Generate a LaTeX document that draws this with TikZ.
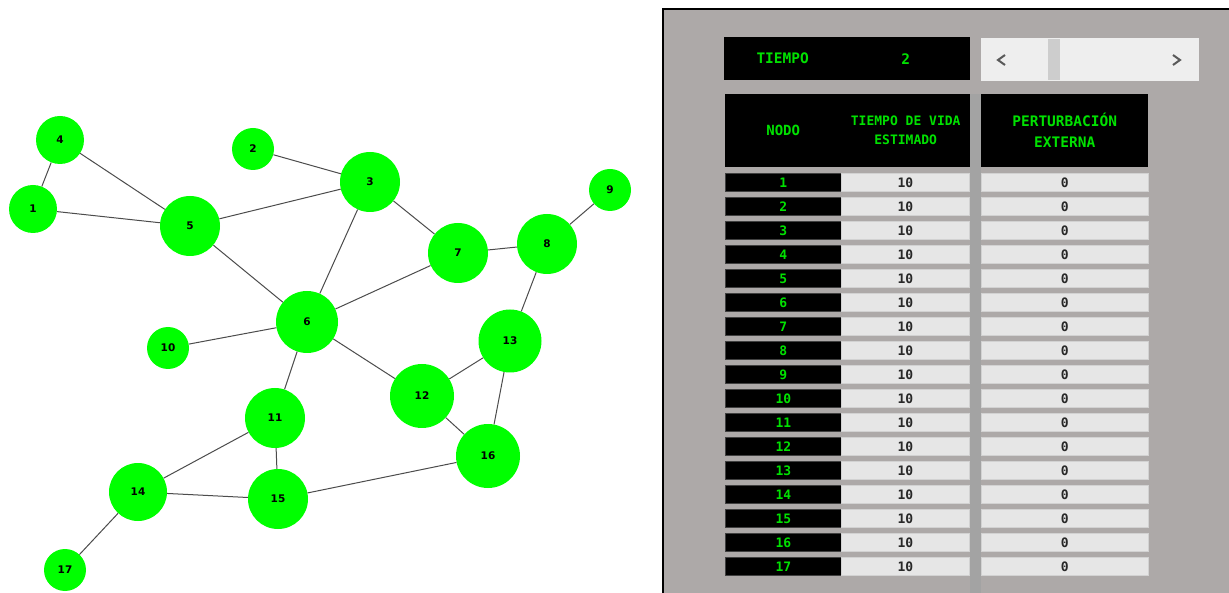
\documentclass[tikz,border=0pt]{standalone}
\usepackage{fontspec}
\newfontfamily\grafofont{DejaVu Sans}
\newfontfamily\tablafont{DejaVu Sans Mono}
\definecolor{lima}{RGB}{0,255,0}
\definecolor{verdetxt}{RGB}{0,225,0}
\definecolor{panelgris}{RGB}{173,169,168}
\definecolor{franja}{RGB}{163,163,163}
\definecolor{celda}{RGB}{230,230,230}
\definecolor{bordecelda}{RGB}{210,210,210}
\definecolor{textocelda}{RGB}{40,40,40}
\definecolor{barra}{RGB}{238,238,238}
\definecolor{pulgar}{RGB}{205,205,205}

\begin{document}
\begin{tikzpicture}[x=1pt,y=-1pt,
  vert/.style={circle,fill=lima,inner sep=0pt,font=\grafofont\bfseries\fontsize{10.5}{12}\selectfont},
  arista/.style={draw=black!70,line width=1pt},
  cabeza/.style={anchor=north west,fill=black,inner sep=0pt,text=verdetxt,align=center},
  negra/.style={anchor=north west,fill=black,draw=black!75,line width=0.8pt,inner sep=0pt,minimum width=116,minimum height=18,text=verdetxt,font=\tablafont\bfseries\fontsize{13}{14}\selectfont},
  vida/.style={anchor=north west,fill=celda,draw=bordecelda,line width=0.8pt,inner sep=0pt,minimum width=128,minimum height=18,text=textocelda,font=\tablafont\bfseries\fontsize{13}{14}\selectfont},
  pert/.style={anchor=north west,fill=celda,draw=bordecelda,line width=0.8pt,inner sep=0pt,minimum width=167,minimum height=18,text=textocelda,font=\tablafont\bfseries\fontsize{13}{14}\selectfont}]
\useasboundingbox (0,0) rectangle (1229,593);
\fill[white] (0,0) rectangle (1229,593);
% graph
\node[vert,minimum size=48] (n1) at (33,209) {1};
\node[vert,minimum size=42] (n2) at (253,149) {2};
\node[vert,minimum size=60] (n3) at (370,182) {3};
\node[vert,minimum size=48] (n4) at (60,140) {4};
\node[vert,minimum size=60] (n5) at (190,226) {5};
\node[vert,minimum size=62] (n6) at (307,322) {6};
\node[vert,minimum size=60] (n7) at (458,253) {7};
\node[vert,minimum size=60] (n8) at (547,244) {8};
\node[vert,minimum size=42] (n9) at (610,190) {9};
\node[vert,minimum size=42] (n10) at (168,348) {10};
\node[vert,minimum size=60] (n11) at (275,418) {11};
\node[vert,minimum size=64] (n12) at (422,396) {12};
\node[vert,minimum size=63] (n13) at (510,341) {13};
\node[vert,minimum size=58] (n14) at (138,492) {14};
\node[vert,minimum size=60] (n15) at (278,499) {15};
\node[vert,minimum size=64] (n16) at (488,456) {16};
\node[vert,minimum size=42] (n17) at (65,570) {17};
\draw[arista] (n4) -- (n1);
\draw[arista] (n4) -- (n5);
\draw[arista] (n1) -- (n5);
\draw[arista] (n2) -- (n3);
\draw[arista] (n3) -- (n5);
\draw[arista] (n3) -- (n6);
\draw[arista] (n3) -- (n7);
\draw[arista] (n5) -- (n6);
\draw[arista] (n6) -- (n7);
\draw[arista] (n7) -- (n8);
\draw[arista] (n8) -- (n9);
\draw[arista] (n8) -- (n13);
\draw[arista] (n6) -- (n10);
\draw[arista] (n6) -- (n11);
\draw[arista] (n6) -- (n12);
\draw[arista] (n12) -- (n13);
\draw[arista] (n12) -- (n16);
\draw[arista] (n13) -- (n16);
\draw[arista] (n11) -- (n14);
\draw[arista] (n11) -- (n15);
\draw[arista] (n14) -- (n15);
\draw[arista] (n15) -- (n16);
\draw[arista] (n14) -- (n17);
% panel
\fill[panelgris] (663,9) rectangle (1229,593);
\draw[line width=2pt] (663,593) -- (663,9) -- (1229,9);
\fill[franja] (970,94) rectangle (981,593);
% tiempo + slider
\node[cabeza,minimum width=117,minimum height=43,font=\tablafont\bfseries\fontsize{14.5}{16}\selectfont] (tiempo) at (724,37) {TIEMPO};
\node[cabeza,minimum width=129,minimum height=43,font=\tablafont\bfseries\fontsize{14.5}{16}\selectfont] (tval) at (841,37) {2};
\fill[barra] (981,38) rectangle (1199,81);
\fill[pulgar] (1048,39) rectangle (1060,80);
\draw[black!65,line width=2pt] (1005,55) -- (998,60) -- (1005,65);
\draw[black!65,line width=2pt] (1173,55) -- (1180,60) -- (1173,65);
% header
\node[cabeza,minimum width=116,minimum height=73,font=\tablafont\bfseries\fontsize{14}{19}\selectfont] (hnodo) at (725,94) {NODO};
\node[cabeza,minimum width=129,minimum height=73,font=\tablafont\bfseries\fontsize{13}{19}\selectfont] (hvida) at (841,94) {TIEMPO DE VIDA\\ESTIMADO};
\node[cabeza,minimum width=167,minimum height=73,font=\tablafont\bfseries\fontsize{14.5}{21}\selectfont] (hpert) at (981,94) {PERTURBACIÓN\\EXTERNA};
% rows
\node[negra] (nodo1) at (725,173) {1};
\node[vida] (vida1) at (841,173) {10};
\node[pert] (pert1) at (981,173) {0};
\node[negra] (nodo2) at (725,197) {2};
\node[vida] (vida2) at (841,197) {10};
\node[pert] (pert2) at (981,197) {0};
\node[negra] (nodo3) at (725,221) {3};
\node[vida] (vida3) at (841,221) {10};
\node[pert] (pert3) at (981,221) {0};
\node[negra] (nodo4) at (725,245) {4};
\node[vida] (vida4) at (841,245) {10};
\node[pert] (pert4) at (981,245) {0};
\node[negra] (nodo5) at (725,269) {5};
\node[vida] (vida5) at (841,269) {10};
\node[pert] (pert5) at (981,269) {0};
\node[negra] (nodo6) at (725,293) {6};
\node[vida] (vida6) at (841,293) {10};
\node[pert] (pert6) at (981,293) {0};
\node[negra] (nodo7) at (725,317) {7};
\node[vida] (vida7) at (841,317) {10};
\node[pert] (pert7) at (981,317) {0};
\node[negra] (nodo8) at (725,341) {8};
\node[vida] (vida8) at (841,341) {10};
\node[pert] (pert8) at (981,341) {0};
\node[negra] (nodo9) at (725,365) {9};
\node[vida] (vida9) at (841,365) {10};
\node[pert] (pert9) at (981,365) {0};
\node[negra] (nodo10) at (725,389) {10};
\node[vida] (vida10) at (841,389) {10};
\node[pert] (pert10) at (981,389) {0};
\node[negra] (nodo11) at (725,413) {11};
\node[vida] (vida11) at (841,413) {10};
\node[pert] (pert11) at (981,413) {0};
\node[negra] (nodo12) at (725,437) {12};
\node[vida] (vida12) at (841,437) {10};
\node[pert] (pert12) at (981,437) {0};
\node[negra] (nodo13) at (725,461) {13};
\node[vida] (vida13) at (841,461) {10};
\node[pert] (pert13) at (981,461) {0};
\node[negra] (nodo14) at (725,485) {14};
\node[vida] (vida14) at (841,485) {10};
\node[pert] (pert14) at (981,485) {0};
\node[negra] (nodo15) at (725,509) {15};
\node[vida] (vida15) at (841,509) {10};
\node[pert] (pert15) at (981,509) {0};
\node[negra] (nodo16) at (725,533) {16};
\node[vida] (vida16) at (841,533) {10};
\node[pert] (pert16) at (981,533) {0};
\node[negra] (nodo17) at (725,557) {17};
\node[vida] (vida17) at (841,557) {10};
\node[pert] (pert17) at (981,557) {0};
\end{tikzpicture}
\end{document}
